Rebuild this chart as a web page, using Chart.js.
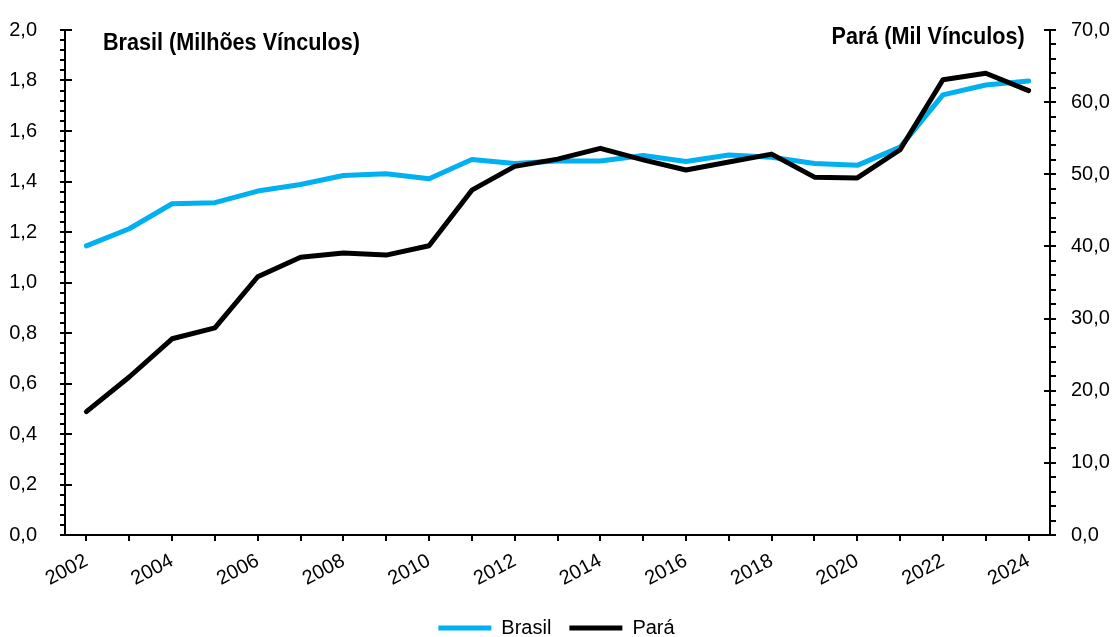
<!DOCTYPE html>
<html>
<head>
<meta charset="utf-8">
<script src="https://cdn.jsdelivr.net/npm/chart.js@4.4.0/dist/chart.umd.min.js"></script>
<style>
body { margin: 0; background: #fff; }
#wrap { position: relative; width: 1113px; height: 637px; }
.axis-title {
    position: absolute;
    font-family: 'Liberation Sans', Arial, sans-serif;
    font-weight: bold;
    font-size: 24px;
    line-height: 1;
    color: #000;
    white-space: nowrap;
    transform: scaleX(0.9);
}
#title-left { left: 103px; top: 30px; transform-origin: left center; }
#title-right { right: 88px; top: 24px; transform-origin: right center; }
</style>
</head>
<body>
<div id="wrap">
    <canvas id="chart"></canvas>
    <div class="axis-title" id="title-left">Brasil (Milhões Vínculos)</div>
    <div class="axis-title" id="title-right">Pará (Mil Vínculos)</div>
</div>
<script>
const FONT = "'Liberation Sans', Arial, sans-serif";

// anos
const years = ['2002', '2003', '2004', '2005', '2006', '2007', '2008', '2009', '2010', '2011', '2012',
    '2013', '2014', '2015', '2016', '2017', '2018', '2019', '2020', '2021', '2022', '2023', '2024'];

// Brasil, milhões de vínculos (eixo esquerdo)
const brasil = [1.145, 1.213, 1.312, 1.316, 1.362, 1.388, 1.424, 1.431, 1.411, 1.487, 1.471,
    1.481, 1.481, 1.503, 1.479, 1.505, 1.496, 1.471, 1.464, 1.536, 1.743, 1.782, 1.798];

// Pará, mil vínculos (eixo direito)
const para = [17.1, 21.9, 27.2, 28.7, 35.8, 38.5, 39.1, 38.8, 40.1, 47.8, 51.1,
    52.1, 53.6, 52.0, 50.6, 51.7, 52.8, 49.6, 49.5, 53.4, 63.1, 64.0, 61.6];

const leftMin = 0, leftMax = 2, leftMajor = 0.2, leftMinor = 0.04;
const rightMin = 0, rightMax = 70, rightMajor = 10, rightMinor = 2;

function isMajor(v, step) {
    return Math.abs(v / step - Math.round(v / step)) < 1e-6;
}

function fmt(v) {
    return v.toFixed(1).replace('.', ',');
}

// major ticks also go a little into the plot area
const innerTicks = {
    id: 'innerTicks',
    afterDraw(chart) {
        const ctx = chart.ctx;
        const yL = chart.scales.y;
        const yR = chart.scales.y1;
        ctx.save();
        ctx.strokeStyle = '#000';
        ctx.lineWidth = 2;
        ctx.beginPath();
        yL.ticks.forEach(t => {
            if (isMajor(t.value, leftMajor)) {
                const p = Math.round(yL.getPixelForValue(t.value));
                ctx.moveTo(yL.right, p);
                ctx.lineTo(yL.right + 7, p);
            }
        });
        yR.ticks.forEach(t => {
            if (isMajor(t.value, rightMajor)) {
                const p = Math.round(yR.getPixelForValue(t.value));
                ctx.moveTo(yR.left, p);
                ctx.lineTo(yR.left - 6, p);
            }
        });
        ctx.stroke();
        ctx.restore();
    }
};

const ctx = document.getElementById('chart').getContext('2d');

new Chart(ctx, {
    type: 'line',
    data: {
        labels: years,
        datasets: [{
            label: 'Brasil',
            data: brasil,
            yAxisID: 'y',
            borderColor: 'rgb(0, 176, 240)',
            backgroundColor: 'rgb(0, 176, 240)',
            borderWidth: 5,
            borderCapStyle: 'round',
            borderJoinStyle: 'round',
            pointRadius: 0,
            tension: 0,
            order: 1
        }, {
            label: 'Pará',
            data: para,
            yAxisID: 'y1',
            borderColor: '#000',
            backgroundColor: '#000',
            borderWidth: 5,
            borderCapStyle: 'round',
            borderJoinStyle: 'round',
            pointRadius: 0,
            tension: 0,
            order: 0
        }]
    },
    options: {
        responsive: true,
        maintainAspectRatio: false,
        animation: false,
        layout: { padding: { top: 30, left: 0, right: 0, bottom: -11 } },
        plugins: {
            tooltip: { enabled: false },
            legend: {
                position: 'bottom',
                labels: {
                    usePointStyle: true,
                    pointStyle: 'line',
                    pointStyleWidth: 53,
                    padding: 18,
                    color: '#000',
                    font: { family: FONT, size: 20 },
                    sort: (a, b) => a.datasetIndex - b.datasetIndex
                }
            }
        },
        scales: {
            x: {
                offset: true,
                afterFit(s) { s.height = 65; },
                grid: { offset: false, drawOnChartArea: false, tickLength: 6, color: '#000', lineWidth: 2 },
                border: { color: '#000', width: 2 },
                ticks: {
                    autoSkip: false,
                    maxRotation: 28,
                    minRotation: 28,
                    padding: 8,
                    color: '#000',
                    font: { family: FONT, size: 20 },
                    callback: function (v) {
                        const l = this.getLabelForValue(v);
                        return Number(l) % 2 === 0 ? l : '';
                    }
                }
            },
            y: {
                position: 'left',
                min: leftMin,
                max: leftMax,
                afterFit(s) { s.width = 65; },
                grid: { drawOnChartArea: false, tickLength: 5, color: '#000', lineWidth: 2 },
                border: { color: '#000', width: 2 },
                ticks: {
                    stepSize: leftMinor,
                    autoSkip: false,
                    padding: 23,
                    color: '#000',
                    font: { family: FONT, size: 20, lineHeight: 0.6 },
                    callback: v => isMajor(v, leftMajor) ? fmt(v) : ''
                }
            },
            y1: {
                position: 'right',
                min: rightMin,
                max: rightMax,
                afterFit(s) { s.width = 63; },
                grid: { drawOnChartArea: false, tickLength: 6, color: '#000', lineWidth: 2 },
                border: { color: '#000', width: 2 },
                ticks: {
                    stepSize: rightMinor,
                    autoSkip: false,
                    padding: 15,
                    color: '#000',
                    font: { family: FONT, size: 20, lineHeight: 0.6 },
                    callback: v => isMajor(v, rightMajor) ? fmt(v) : ''
                }
            }
        }
    },
    plugins: [innerTicks]
});
</script>
</body>
</html>
